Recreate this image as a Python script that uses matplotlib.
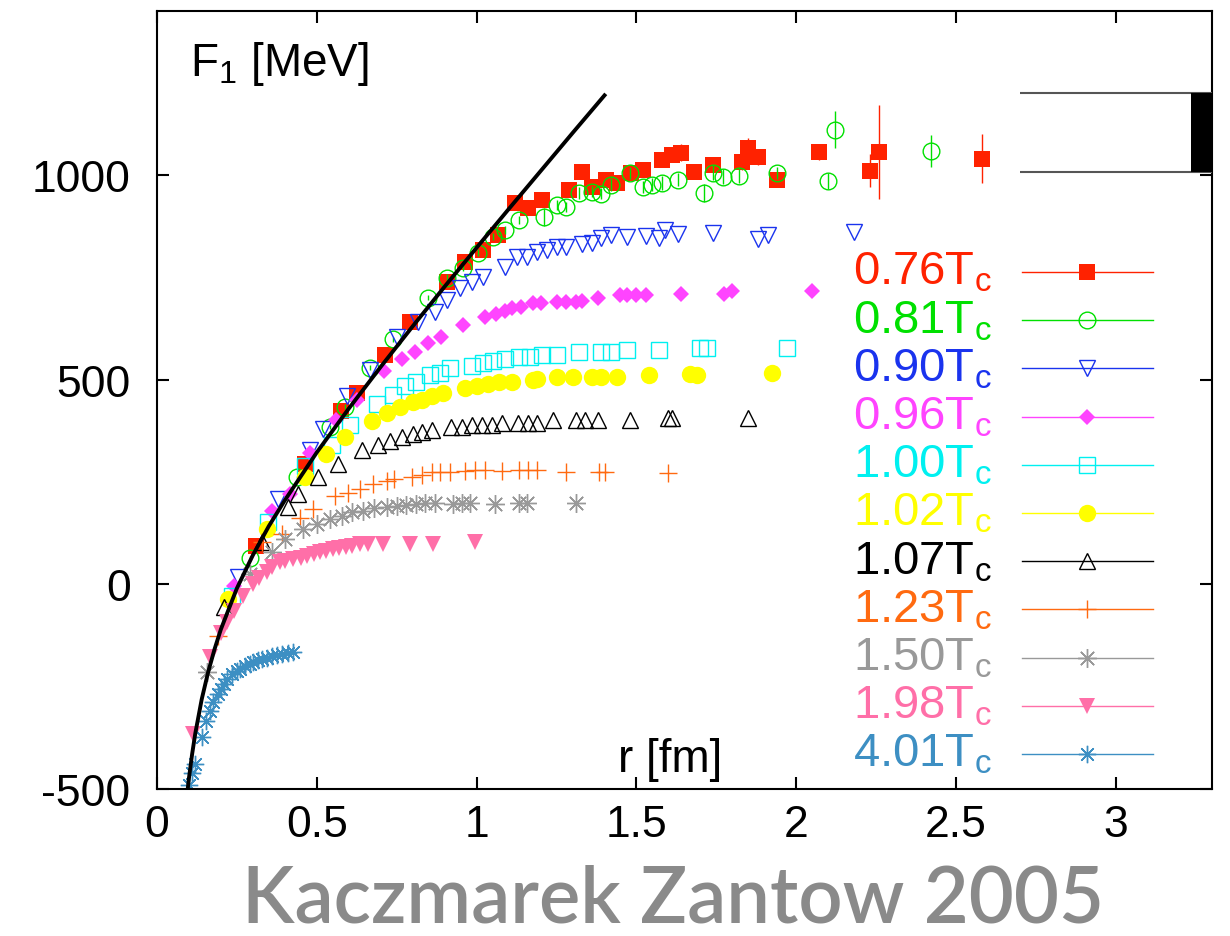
import matplotlib
matplotlib.use("Agg")
import matplotlib.pyplot as plt

plt.rcParams['font.family'] = ['Liberation Sans', 'DejaVu Sans']
plt.rcParams['mathtext.fontset'] = 'custom'
plt.rcParams['mathtext.rm'] = 'Liberation Sans'
plt.rcParams['mathtext.it'] = 'Liberation Sans'
plt.rcParams['mathtext.default'] = 'regular'
plt.rcParams['axes.unicode_minus'] = False

# free energy F_1 [MeV] vs r [fm]
r_076 = [0.31, 0.4625, 0.575, 0.625, 0.7125, 0.79, 0.906, 0.9625, 1.02, 1.066, 1.12, 1.16, 1.206, 1.29,
         1.33, 1.36, 1.406, 1.44, 1.484, 1.52, 1.58, 1.61, 1.64, 1.68, 1.74, 1.83, 1.85, 1.88, 1.94, 2.07,
         2.23, 2.26, 2.58]
F_076 = [93, 293, 422, 468, 561, 641, 737, 788, 817, 854, 932, 919, 939, 963,
         1007, 971, 988, 980, 1005, 1012, 1037, 1049, 1054, 1007, 1024, 1032, 1066, 1044, 988, 1056,
         1010, 1056, 1039]
e_076 = [4, 5, 6, 6, 7, 8, 8, 8, 9, 9, 10, 10, 10, 12,
         12, 12, 14, 14, 14, 15, 15, 15, 20, 15, 18, 20, 25, 20, 15, 20,
         40, 115, 60]

r_081 = [0.29, 0.4375, 0.54, 0.5875, 0.666, 0.7375, 0.847, 0.906, 0.956, 1.003, 1.05, 1.09, 1.134, 1.21,
         1.25, 1.28, 1.32, 1.36, 1.39, 1.42, 1.48, 1.52, 1.55, 1.58, 1.63, 1.71, 1.74, 1.77, 1.82, 1.94,
         2.10, 2.12, 2.42]
F_081 = [65, 261, 385, 434, 529, 598, 700, 749, 773, 810, 849, 866, 890, 898,
         927, 922, 956, 959, 954, 976, 1005, 971, 976, 980, 988, 956, 1005, 995, 998, 1005,
         985, 1110, 1058]
e_081 = [3, 4, 5, 5, 6, 6, 7, 8, 8, 9, 9, 10, 10, 22,
         12, 12, 14, 14, 14, 15, 15, 15, 15, 16, 16, 22, 18, 18, 18, 15,
         20, 45, 40]

r_090 = [0.253, 0.378, 0.478, 0.52, 0.594, 0.666, 0.75, 0.816, 0.869, 0.906, 0.947, 0.984, 1.019, 1.09,
         1.125, 1.156, 1.19, 1.22, 1.25, 1.28, 1.33, 1.36, 1.39, 1.42, 1.47, 1.53, 1.57, 1.59, 1.63,
         1.74, 1.88, 1.91, 2.18]
F_090 = [17, 207, 329, 378, 459, 524, 605, 641, 666, 695, 724, 739, 751, 776,
         800, 800, 812, 817, 824, 824, 832, 834, 846, 854, 849, 851, 846, 866, 856,
         858, 844, 854, 861]

r_096 = [0.24, 0.36, 0.416, 0.478, 0.56, 0.625, 0.71, 0.766, 0.806, 0.847, 0.89, 0.956, 1.025, 1.06,
         1.09, 1.11, 1.14, 1.175, 1.20, 1.25, 1.28, 1.31, 1.33, 1.38, 1.45, 1.47, 1.50, 1.53, 1.64,
         1.775, 1.80, 2.05]
F_096 = [-5, 178, 220, 320, 400, 451, 520, 549, 568, 590, 605, 634, 652, 659,
         668, 675, 678, 686, 688, 690, 690, 690, 692, 700, 707, 707, 707, 707, 710,
         710, 717, 715]

r_100 = [0.234, 0.347, 0.4625, 0.547, 0.603, 0.6875, 0.7375, 0.775, 0.81, 0.853, 0.884, 0.916, 0.984,
         1.02, 1.05, 1.09, 1.134, 1.166, 1.206, 1.25, 1.32, 1.39, 1.42, 1.47, 1.57, 1.70, 1.72, 1.97]
F_100 = [-29, 151, 288, 341, 388, 441, 463, 483, 493, 510, 517, 527, 532,
         541, 544, 551, 556, 556, 561, 561, 566, 568, 568, 571, 573, 576, 576, 578]

r_102 = [0.222, 0.343, 0.4625, 0.53, 0.5875, 0.672, 0.72, 0.76, 0.80, 0.83, 0.86, 0.894, 0.9625, 1.0,
         1.034, 1.07, 1.11, 1.175, 1.19, 1.25, 1.30, 1.36, 1.39, 1.44, 1.54, 1.666, 1.69, 1.925]
F_102 = [-37, 134, 261, 317, 359, 398, 419, 432, 444, 451, 459, 468, 480, 485,
         490, 493, 495, 500, 502, 505, 505, 507, 507, 507, 510, 514, 510, 515]

r_107 = [0.21, 0.33, 0.41, 0.44, 0.503, 0.566, 0.64, 0.69, 0.728, 0.766, 0.80, 0.83, 0.86, 0.92, 0.953,
         0.984, 1.016, 1.047, 1.08, 1.128, 1.16, 1.19, 1.24, 1.31, 1.34, 1.38, 1.48, 1.60, 1.61, 1.85]
F_107 = [-56, 102, 188, 220, 263, 293, 329, 341, 349, 359, 366, 373, 376, 383, 385,
         388, 390, 390, 393, 395, 395, 395, 400, 402, 402, 402, 402, 405, 405, 405]

r_123 = [0.19, 0.33, 0.39, 0.447, 0.4875, 0.556, 0.597, 0.634, 0.675, 0.72, 0.74, 0.797, 0.83, 0.86,
         0.884, 0.916, 0.9625, 0.994, 1.025, 1.078, 1.134, 1.16, 1.19, 1.28, 1.384, 1.40, 1.60]
F_123 = [-127, 102, 122, 163, 183, 215, 224, 232, 244, 251, 256, 261, 268, 273,
         273, 273, 276, 278, 278, 276, 280, 280, 278, 273, 273, 273, 271]

r_150 = [0.156, 0.29, 0.36, 0.40, 0.457, 0.5, 0.54, 0.578, 0.61, 0.644, 0.68, 0.72, 0.75, 0.78, 0.81,
         0.84, 0.87, 0.925, 0.953, 0.98, 1.056, 1.134, 1.156, 1.31]
F_150 = [-215, 24, 78, 110, 134, 146, 159, 166, 176, 178, 185, 188, 190, 193, 195,
         198, 198, 195, 198, 198, 195, 198, 198, 198]

r_198 = [0.113, 0.166, 0.20, 0.22, 0.24, 0.27, 0.30, 0.32, 0.343, 0.36, 0.384, 0.40, 0.425, 0.45, 0.47,
         0.49, 0.51, 0.53, 0.55, 0.57, 0.59, 0.61, 0.634, 0.66, 0.706, 0.79, 0.863, 0.994]
F_198 = [-366, -178, -120, -93, -66, -29, 0, 15, 29, 42, 54, 58, 61, 65, 68,
         73, 78, 81, 85, 88, 90, 94, 98, 98, 98, 98, 98, 102]

r_401 = [0.10, 0.11, 0.12, 0.14, 0.155, 0.165, 0.175, 0.19, 0.20, 0.21, 0.22, 0.235, 0.25, 0.26, 0.275,
         0.29, 0.30, 0.315, 0.33, 0.345, 0.36, 0.375, 0.39, 0.41, 0.425]
F_401 = [-490, -460, -440, -373, -334, -310, -288, -268, -256, -244, -232, -220, -212, -206, -200,
         -195, -190, -186, -183, -179, -176, -173, -171, -168, -166]

# T=0 potential curve
r_T0 = [0.09, 0.10, 0.11, 0.12, 0.14, 0.16, 0.18, 0.20, 0.25, 0.30, 0.35, 0.40, 0.50, 0.60, 0.70,
        0.80, 0.90, 1.00, 1.10, 1.20, 1.30, 1.40]
F_T0 = [-544, -474, -415, -364, -281, -215, -159, -110, -10, 71, 142, 205, 322, 429, 531,
        630, 727, 822, 916, 1009, 1102, 1194]

# string breaking band (right edge)
band_lo, band_hi = 1007, 1200
band_r0, band_r1 = 2.70, 3.235

labels = ['0.76', '0.81', '0.90', '0.96', '1.00', '1.02', '1.07', '1.23', '1.50', '1.98', '4.01']
colors = ['#ff2200', '#00e000', '#1a33ee', '#ff44ff', '#00f0f0', '#ffff00',
          '#000000', '#ff6a10', '#999999', '#ff6fa8', '#3d8fc3']
markers = ['s', 'o', 'v', 'D', 's', 'o', '^', '+', (8, 2, 0), 'v', (8, 2, 0)]
sizes = [12, 12, 11.5, 8.4, 12, 12.5, 12, 12.5, 13.5, 11, 12.5]
filled = [True, False, False, True, False, True, False, False, False, True, False]
rs = [r_076, r_081, r_090, r_096, r_100, r_102, r_107, r_123, r_150, r_198, r_401]
Fs = [F_076, F_081, F_090, F_096, F_100, F_102, F_107, F_123, F_150, F_198, F_401]
errs = [e_076, e_081, None, None, None, None, None, None, None, None, None]

fig = plt.figure(figsize=(12.3, 9.37), dpi=100)
ax = fig.add_axes([0.1276, 0.1569, 0.8577, 0.8303])

for i in range(len(labels)):
    fc = colors[i] if filled[i] else 'none'
    mew = 0 if filled[i] else 1.0
    if errs[i] is not None:
        ax.errorbar(rs[i], Fs[i], yerr=errs[i], fmt='none', ecolor=colors[i], elinewidth=1.0,
                    capsize=0, zorder=2 + i * 0.01)
    ax.plot(rs[i], Fs[i], linestyle='none', marker=markers[i], ms=sizes[i], mfc=fc,
            mec=colors[i], mew=mew, zorder=2 + i * 0.01)

ax.plot(r_T0, F_T0, color='black', lw=2.8, zorder=5)

ax.hlines([band_lo, band_hi], band_r0, 3.3, colors='#555555', lw=1.5, zorder=3)
ax.fill_betweenx([band_lo, band_hi], band_r1, 3.3, color='black', lw=0, zorder=3)

# legend: colored labels left, sample line with marker right
for i in range(len(labels)):
    y = 0.6645 - i * 0.06195
    fc = colors[i] if filled[i] else 'none'
    ax.plot([0.820, 0.944], [y, y], color=colors[i], lw=1.0, transform=ax.transAxes, zorder=4)
    ax.plot([0.882], [y], marker=markers[i], ms=sizes[i], mfc=fc, mec=colors[i],
            mew=0 if filled[i] else 1.0, transform=ax.transAxes, zorder=4)
    ax.text(0.7915, y - 0.0154, labels[i] + 'T$_c$', color=colors[i], fontsize=34,
            ha='right', va='baseline', transform=ax.transAxes)

ax.text(0.031, 0.918, 'F$_1$ [MeV]', fontsize=33, ha='left', va='baseline', transform=ax.transAxes)
ax.text(0.437, 0.023, 'r [fm]', fontsize=33, ha='left', va='baseline', transform=ax.transAxes)

ax.set_xlim(0, 3.3)
ax.set_ylim(-500, 1400)
ax.set_xticks([0, 0.5, 1, 1.5, 2, 2.5, 3])
ax.set_xticklabels(['0', '0.5', '1', '1.5', '2', '2.5', '3'])
ax.set_yticks([-500, 0, 500, 1000])
ax.tick_params(direction='in', length=8.6, width=1.5, top=True, right=True, labelsize=32)
ax.tick_params(axis='y', pad=19)
ax.tick_params(axis='x', pad=11)
for sp in ax.spines.values():
    sp.set_linewidth(1.5)

fig.text(0.547, 0.001, 'Kaczmarek Zantow 2005', fontsize=56, color='#8a8a8a', family='Lato',
         weight='semibold', ha='center', va='bottom')

fig.savefig('out.png', dpi=100)
